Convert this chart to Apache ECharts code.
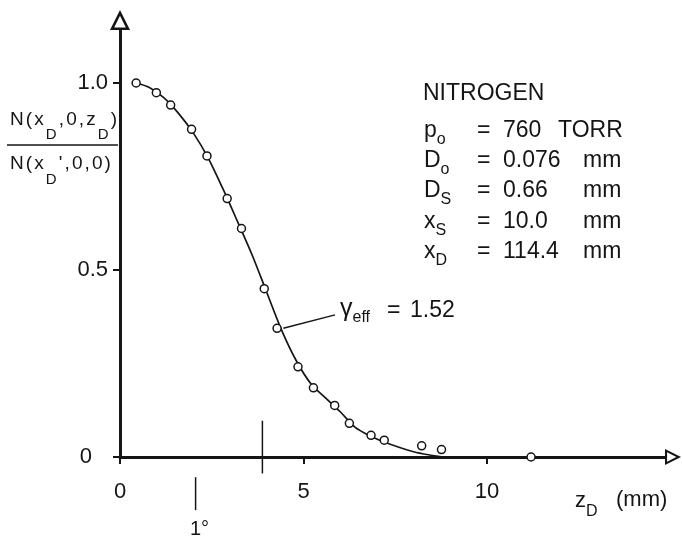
<!DOCTYPE html>
<html><head><meta charset="utf-8">
<script src="https://cdn.jsdelivr.net/npm/echarts@6/dist/echarts.min.js"></script>
<style>html,body{margin:0;padding:0;background:#fff}#c{width:682px;height:540px}</style>
</head><body><div id="c"></div>
<script>
// ---- data ----
const xTickValues = [0, 5, 10];
const yTickValues = [0, 0.5, 1.0];
const measuredPoints = [
  [0.44,1.000],[0.99,0.974],[1.38,0.941],[1.95,0.876],[2.37,0.805],[2.92,0.691],
  [3.31,0.611],[3.93,0.450],[4.28,0.344],[4.85,0.241],[5.27,0.185],[5.85,0.138],
  [6.25,0.090],[6.84,0.058],[7.20,0.045],[8.22,0.030],[8.76,0.020],[11.2,0.000]
];
const fittedCurve = [
  [0.44,1.000],[0.8,0.988],[1.2,0.960],[1.6,0.918],[2.0,0.866],[2.4,0.800],[2.8,0.718],
  [3.2,0.630],[3.6,0.540],[4.0,0.440],[4.4,0.340],[4.8,0.258],[5.2,0.196],[5.6,0.158],
  [6.0,0.121],[6.4,0.080],[6.8,0.057],[7.2,0.040],[7.6,0.026],[8.0,0.014],[8.4,0.006],[8.8,0.000]
];
const markerSegments = [[3.88,0.097,3.88,-0.044],[2.06,-0.054,2.06,-0.142]];
const leaderSegments = [[4.45,0.344,5.86,0.380]];
const infoTitle = 'NITROGEN';
const infoSymbols = [['p','o'],['D','o'],['D','S'],['x','S'],['x','D']];
const infoValues = ['760','0.076','0.66','10.0','114.4'];
const infoUnits = ['TORR','mm','mm','mm','mm'];
const gammaLabel = [['γ',0],['eff',1]];
const gammaValue = '1.52';

// ---- helpers ----
const FF = '"Liberation Sans", Arial, sans-serif';
const C = '#151515';
const mctx = document.createElement('canvas').getContext('2d');
function tw(s, size){ mctx.font = size + 'px ' + FF; return mctx.measureText(s).width; }
function runs(x, y, parts, size, subSize, subDy, spacing){
  const els = []; let cx = x; const sp = spacing || 0;
  parts.forEach(([s, sub]) => {
    const fs = sub ? subSize : size;
    const chars = sp ? Array.from(s) : [s];
    chars.forEach(ch => {
      els.push({type:'text', x:cx, y: sub ? y + subDy : y, silent:true,
        style:{text:ch, fontSize:fs, fontFamily:FF, fill:C, align:'left', verticalAlign:'middle'}});
      cx += tw(ch, fs) + sp;
    });
  });
  return els;
}
function txt(x, y, s, size, align){
  return {type:'text', x:x, y:y, silent:true,
    style:{text:s, fontSize:size, fontFamily:FF, fill:C, align:align||'left', verticalAlign:'middle'}};
}

const graphics = [];
// y-axis fraction label
graphics.push(...runs(10, 120, [['N(x',0],['D',1],[',0,z',0],['D',1],[')',0]], 19, 15, 15, 2.1));
graphics.push({type:'line', silent:true, shape:{x1:7,y1:145,x2:118,y2:145}, style:{stroke:C, lineWidth:1.5}});
graphics.push(...runs(10, 164, [['N(x',0],['D',1],["',0,0)",0]], 19, 15, 16, 2.1));
// info block
graphics.push(txt(423, 94, infoTitle, 23));
const rowY = [131, 161, 191, 222, 252];
infoSymbols.forEach((s, i) => {
  graphics.push(...runs(424, rowY[i], [[s[0],0],[s[1],1]], 23, 16, 9));
  graphics.push(txt(477, rowY[i], '=', 23));
  graphics.push(txt(503, rowY[i], infoValues[i], 23));
  graphics.push(txt(infoUnits[i] === 'TORR' ? 558 : 583, rowY[i], infoUnits[i], 23));
});
// gamma label
graphics.push(...runs(340, 309, gammaLabel, 25, 16, 9));
graphics.push(txt(387, 311, '=', 23));
graphics.push(txt(410, 311, gammaValue, 23));
// x-axis title
graphics.push(...runs(575, 501, [['z',0],['D',1]], 22, 16, 11));
graphics.push(txt(616, 500, '(mm)', 22));
// 1 degree label
graphics.push(txt(190, 529, '1°', 20));

const arrowPath = 'path://M50,0 L100,100 L0,100 Z M50,29 L21,87 L79,87 Z';

function segItem(params, api){
  const p1 = api.coord([api.value(0), api.value(1)]);
  const p2 = api.coord([api.value(2), api.value(3)]);
  return {type:'line', shape:{x1:p1[0], y1:p1[1], x2:p2[0], y2:p2[1]}, style:{stroke:C, lineWidth:1.5}};
}

const chart = echarts.init(document.getElementById('c'), null, {renderer:'canvas'});
chart.setOption({
  animation:false,
  backgroundColor:'#fff',
  grid:{left:120, right:17, top:30, bottom:83},
  xAxis:{
    type:'value', min:0, max:14.85, interval:5,
    splitLine:{show:false},
    axisLine:{onZero:false, lineStyle:{color:C, width:3}, symbol:['none', arrowPath], symbolSize:[19,16], symbolOffset:[0,8]},
    axisTick:{show:true, length:7, lineStyle:{color:C, width:2}, customValues:xTickValues},
    axisLabel:{customValues:xTickValues, margin:24, fontSize:22, fontFamily:FF, color:C}
  },
  yAxis:{
    type:'value', min:0, max:1.1417, interval:0.5,
    splitLine:{show:false},
    axisLine:{onZero:false, lineStyle:{color:C, width:3}, symbol:['none', arrowPath], symbolSize:[20,20], symbolOffset:[0,10]},
    axisTick:{show:true, length:7, lineStyle:{color:C, width:2}, customValues:yTickValues},
    axisLabel:{customValues:yTickValues, margin:12, fontSize:22, fontFamily:FF, color:C,
      formatter: v => v === 0 ? '{z|0}' : v.toFixed(1),
      rich:{z:{fontSize:22, fontFamily:FF, color:C, padding:[0,16,0,0]}}}
  },
  graphic:graphics,
  series:[
    {type:'line', data:fittedCurve, showSymbol:false, smooth:0.3, z:2,
      lineStyle:{color:C, width:1.7}},
    {type:'scatter', data:measuredPoints, symbol:'circle', symbolSize:8, z:3,
      itemStyle:{color:'#fff', borderColor:C, borderWidth:1.5, opacity:1}},
    {type:'custom', data:markerSegments.concat(leaderSegments), clip:false, z:4,
      encode:{x:[0,2], y:[1,3]}, renderItem:segItem}
  ]
});
</script></body></html>
